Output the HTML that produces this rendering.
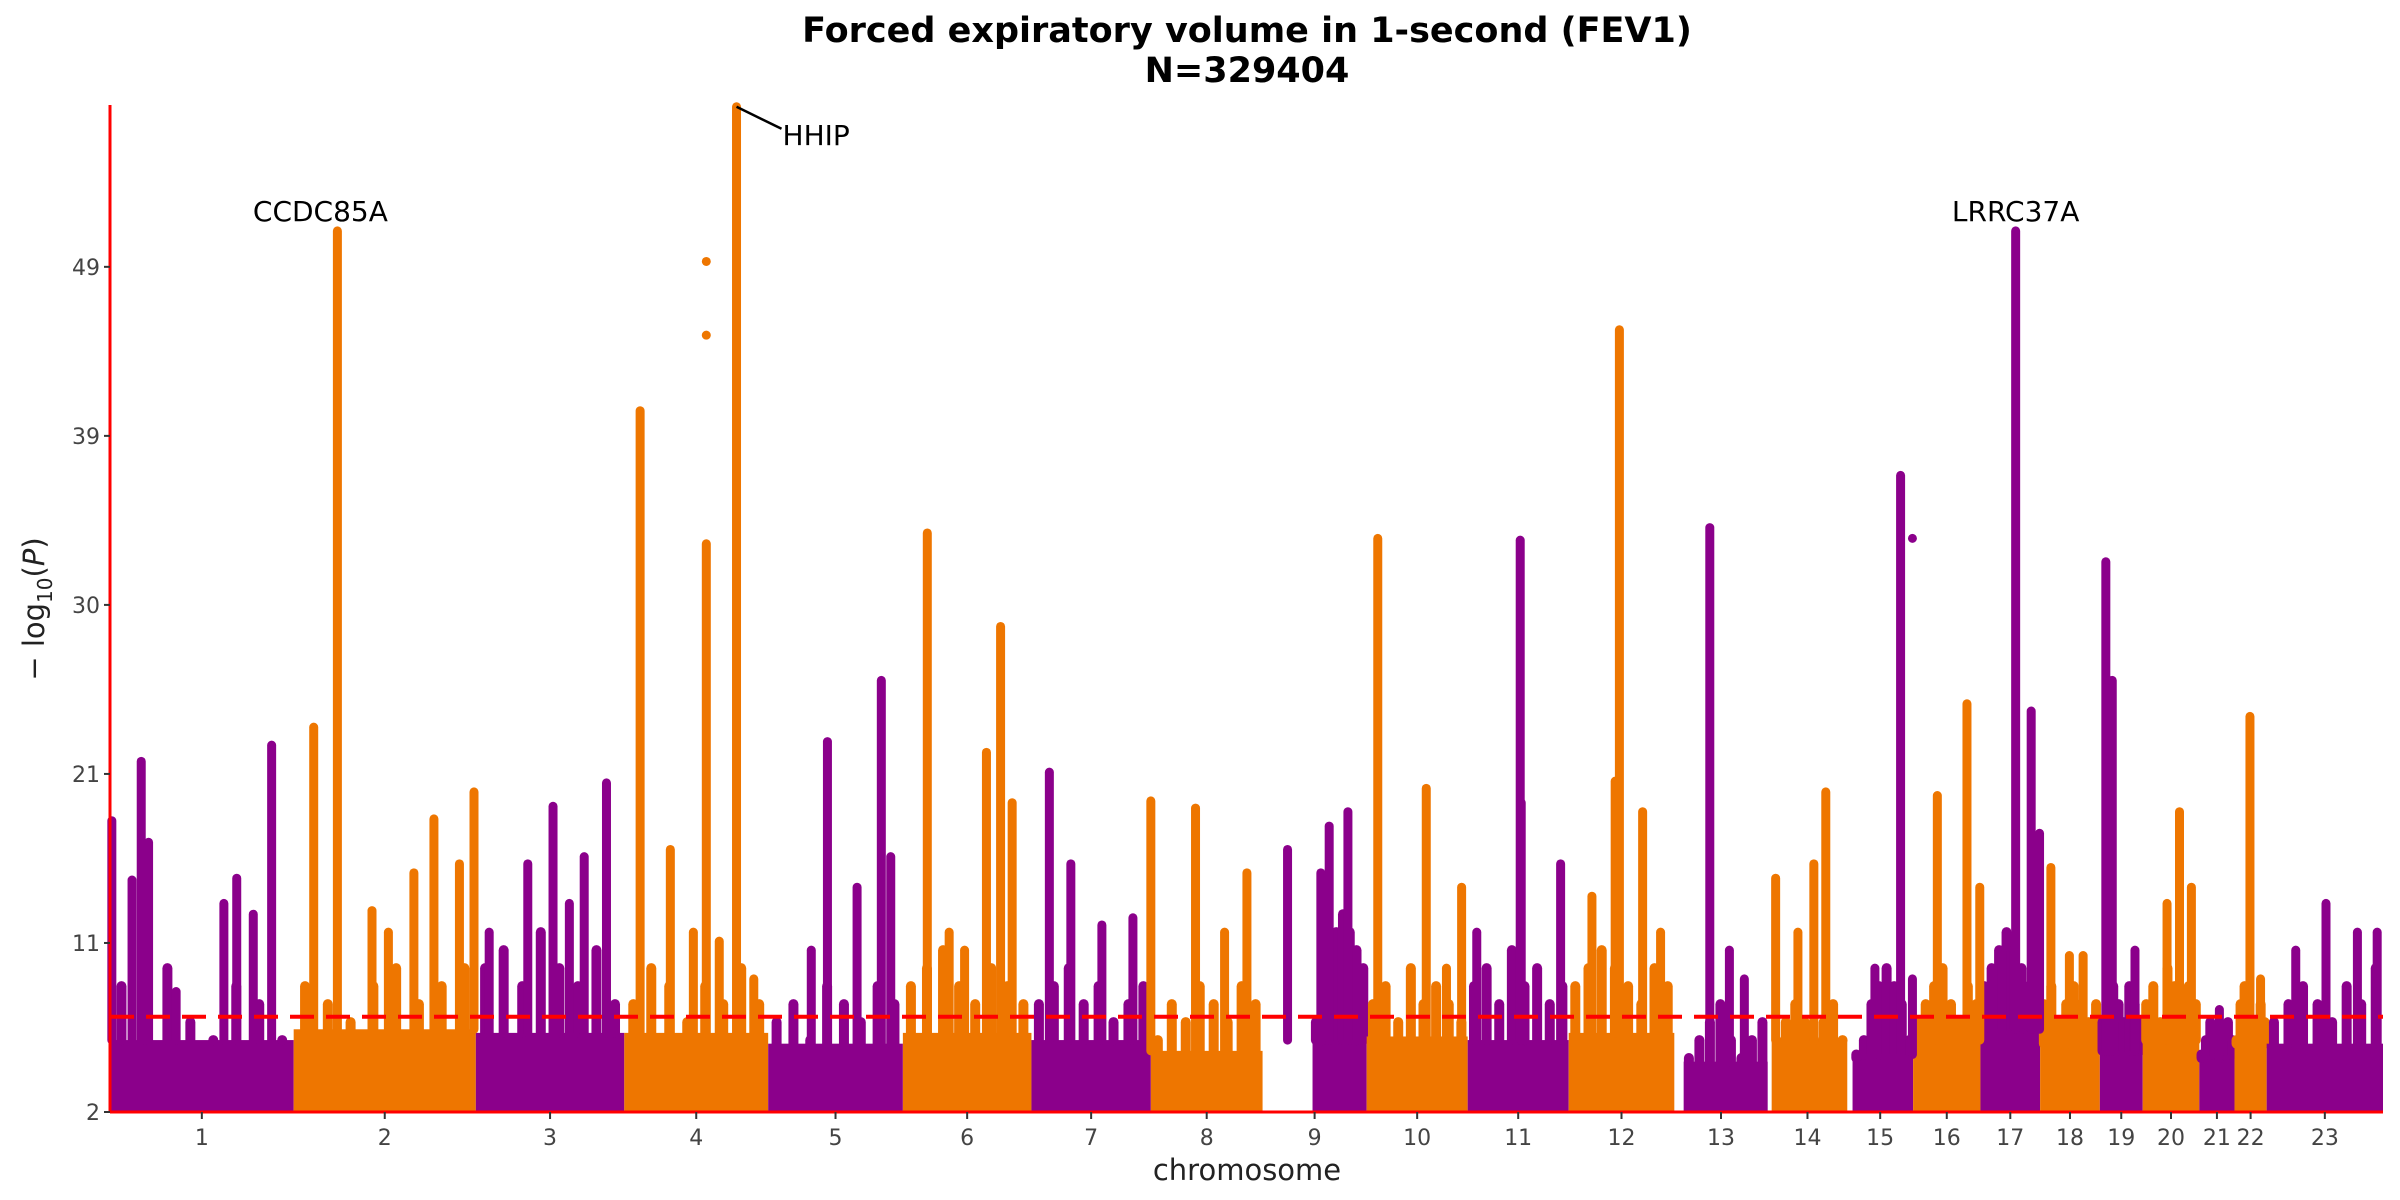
<!DOCTYPE html>
<html><head><meta charset="utf-8">
<style>
html,body{margin:0;padding:0;background:#fff;}
svg{display:block;font-family:"DejaVu Sans","Liberation Sans",sans-serif;}
</style></head>
<body>
<svg id="chart" width="2400" height="1200" viewBox="0 0 2400 1200">
  <text x="1247" y="42" text-anchor="middle" font-size="35" font-weight="bold">Forced expiratory volume in 1-second (FEV1)</text>
  <text x="1247" y="82" text-anchor="middle" font-size="35" font-weight="bold">N=329404</text>
  <g id="marks"></g>
  <g id="axes"></g>
  <text x="1247" y="1180" text-anchor="middle" font-size="29" fill="#222">chromosome</text>
  <text transform="translate(44,609) rotate(-90)" text-anchor="middle" font-size="29" fill="#222">− log<tspan font-size="20" dy="8">10</tspan><tspan dy="-8">(</tspan><tspan font-style="italic">P</tspan>)</text>
</svg>
<script>
// ---- data ----
const chromLabels = ["1","2","3","4","5","6","7","8","9","10","11","12","13","14","15","16","17","18","19","20","21","22","23"];
const chromLengths = [120,119,97,94,88,84,78,73,68,66,66,69,61,52,43,44,39,39,28,37,23,21,76];
const chromDataStart = [0,0,0,0,0,0,0,0,0.48,0,0,0,0.1,0.05,0.08,0,0,0,0,0,0,0,0];
const bulkLevel = [6.0,6.6,6.4,6.4,5.8,6.4,6.0,5.4,6.0,6.2,6.0,6.4,4.8,6.0,5.2,6.0,6.6,5.8,5.4,6.0,5.2,5.8,5.8];
const noiseLevels = [
 [9,8,10,7,6,9,8,6],[9,8,7,9,10,8,9,10],[10,11,9,12,10,9,11,8],[8,10,9,7,9,8,10,8],
 [7,8,6,9,8,7,9,8],[9,10,11,9,8,10,9,8],[8,9,10,8,9,7,8,9],[6,8,7,9,8,7,9,8],
 [7,8,9,12,13,12,11,10],[8,9,7,10,8,9,8,7],[9,10,8,11,9,10,8,9],[9,10,11,10,9,8,10,9],
 [5,6,7,8,6,5,6,7],[6,7,8,7,6,7,8,6],[5,6,8,9,10,9,8,6],[7,8,9,10,8,7,9,8],
 [9,10,11,12,11,10,9,8],[8,9,7,8,9,8,7,8],[7,8,9,8,7,9,8,7],[8,9,7,10,9,8,9,8],
 [5,6,7,6,5,6,7,6],[6,8,9,8,7,6,8,7],[7,8,9,8,7,9,8,10]
];
const peakChrom = [0,0,0,0,0,0,0,0,0, 1,1,1,1,1,1,1,1, 2,2,2,2,2,2, 3,3,3,3,3,3,3, 4,4,4,4,4, 5,5,5,5,5,5, 6,6,6,6, 7,7,7,7, 8,8,8,8, 9,9,9,9, 10,10,10,10, 11,11,11,11,11, 12,12,12, 13,13,13,13, 14,14,14, 15,15,15, 16,16,16,16, 17,17,17, 18,18,18,18, 19,19,19, 20, 21,21, 22,22,22,22];
const peakPos = [0.01,0.12,0.17,0.21,0.36,0.69,0.88,0.78,0.62, 0.11,0.24,0.43,0.66,0.77,0.91,0.52,0.99, 0.09,0.35,0.52,0.73,0.88,0.63, 0.11,0.32,0.57,0.78,0.66,0.90,0.48, 0.32,0.44,0.66,0.84,0.91, 0.19,0.36,0.65,0.76,0.85,0.48, 0.15,0.33,0.59,0.85, 0.0,0.40,0.86,0.66, 0.24,0.64,0.82,0.56, 0.11,0.59,0.94,0.79, 0.52,0.53,0.92,0.09, 0.48,0.22,0.44,0.70,0.87, 0.38,0.59,0.75, 0.10,0.73,0.58,0.38, 0.81,0.99,0.42, 0.36,0.80,0.99, 0.59,0.85,0.99,0.36, 0.18,0.49,0.72, 0.21,0.14,0.29,0.82, 0.65,0.43,0.86, 0.57, 0.48,0.81, 0.51,0.78,0.25,0.95];
const peakValue = [18.2,14.9,21.5,17,8.7,15,22.4,13,13.6, 23.4,51,13.2,15.3,18.3,15.8,12,19.8, 12,15.8,19,16.2,20.3,13.6, 41,16.6,33.6,57.9,11.5,9.4,12, 11,22.6,14.5,26,16.2, 34.2,12,22,29,19.2,11, 20.9,15.8,12.4,12.8, 19.3,18.9,15.3,12, 16.6,17.9,18.7,15.3, 33.9,20,14.5,10, 33.8,19.2,15.8,12, 45.5,14,20.4,18.7,12, 34.5,11,9.4, 15,19.8,15.8,12, 37.4,9.4,10, 19.6,24.7,14.5, 51,24.3,17.5,11, 15.6,10.7,10.7, 12.8,32.6,26,11, 18.7,13.6,14.5, 7.7, 24,9.4, 13.6,12,11,12];
const dotChrom = [3,3,14,18,18];
const dotPos = [0.57,0.57,0.99,0.21,0.21];
const dotValue = [49.3,45.2,33.9,26,21.6];
const yTickValues = [2,11.4,20.8,30.2,39.6,49];
const yTickLabels = ["2","11","21","30","39","49"];
const threshold = 7.3;
const annoLabels = ["CCDC85A","HHIP","LRRC37A"];
const annoChrom = [1,3,16];
const annoPos = [0.24,0.78,0.59];
const annoValue = [51,57.9,51];

// ---- scales ----
const X0 = 110, X1 = 2383, Y0 = 1112, YTOP = 105;
const yMin = 2, yMax = 58;
const total = chromLengths.reduce((a,b)=>a+b,0);
const starts = []; let acc = 0;
chromLengths.forEach(l=>{starts.push(acc); acc+=l;});
function xScale(ci, rel){ return X0 + (starts[ci] + rel*chromLengths[ci]) / total * (X1-X0); }
function yScale(v){ return Y0 - (v - yMin) / (yMax - yMin) * (Y0 - YTOP); }
const colors = ["#8B008B","#EE7600"];
const NS = "http://www.w3.org/2000/svg";
const marks = document.getElementById("marks");
const axes = document.getElementById("axes");
function mk(tag, attrs, parent){ const e=document.createElementNS(NS,tag); for(const k in attrs) e.setAttribute(k,attrs[k]); parent.appendChild(e); return e; }

chromLabels.forEach((lab,ci)=>{
  const col = colors[ci%2];
  const g = mk("g",{fill:col,stroke:col},marks);
  
  
  const xa = xScale(ci, chromDataStart[ci]), xb = xScale(ci,1);
  const r = mk("rect",{x:xa, y:yScale(bulkLevel[ci]), width:Math.max(0,xb-xa), height:Y0-yScale(bulkLevel[ci]), stroke:"none"},g);
  
  
  const n = noiseLevels[ci];
  n.forEach((v,k)=>{
    const rel = chromDataStart[ci] + (1-chromDataStart[ci])*(k+0.5)/n.length;
    const ln = mk("line",{x1:xScale(ci,rel),x2:xScale(ci,rel),y1:yScale(bulkLevel[ci]),y2:yScale(v),"stroke-width":10,"stroke-linecap":"round"},g);
    
    
  });
});
peakChrom.forEach((ci,i)=>{
  const col = colors[ci%2];
  const x = xScale(ci, peakPos[i]);
  const ln = mk("line",{x1:x,x2:x,y1:yScale(bulkLevel[ci]),y2:yScale(peakValue[i]),stroke:col,"stroke-width":9,"stroke-linecap":"round"},marks);
  
  
});
dotChrom.forEach((ci,i)=>{
  const c = mk("circle",{cx:xScale(ci,dotPos[i]),cy:yScale(dotValue[i]),r:4.5,fill:colors[ci%2]},marks);
  
  
});
const th = mk("line",{x1:X0,x2:X1,y1:yScale(threshold),y2:yScale(threshold),stroke:"#FF0000","stroke-width":4,"stroke-dasharray":"24 12"},marks);



const ya = mk("line",{x1:X0,x2:X0,y1:YTOP,y2:Y0+1,stroke:"#FF0000","stroke-width":3},axes);


const xa = mk("line",{x1:X0,x2:X1,y1:Y0,y2:Y0,stroke:"#FF0000","stroke-width":3},axes);


yTickValues.forEach((v,i)=>{
  const y = yScale(v);
  const t = mk("line",{x1:X0-6,x2:X0,y1:y,y2:y,stroke:"#333","stroke-width":2},axes);
  
  
  const tx = mk("text",{x:X0-10,y:y+8,"text-anchor":"end","font-size":22,fill:"#444"},axes);
  tx.textContent = yTickLabels[i];
  
  
});
chromLabels.forEach((lab,ci)=>{
  const x = xScale(ci,0.5);
  const t = mk("line",{x1:x,x2:x,y1:Y0,y2:Y0+7,stroke:"#333","stroke-width":2},axes);
  
  
  const tx = mk("text",{x:x,y:Y0+33,"text-anchor":"middle","font-size":22,fill:"#444"},axes);
  tx.textContent = lab;
  
  
});
annoLabels.forEach((lab,i)=>{
  const x = xScale(annoChrom[i], annoPos[i]), y = yScale(annoValue[i]);
  let t;
  if (lab === "HHIP") {
    const l = mk("line",{x1:x,y1:y,x2:x+45,y2:y+22,stroke:"#000","stroke-width":2.5},axes);
    
    
    t = mk("text",{x:x+46,y:y+38,"font-size":28},axes);
  } else {
    t = mk("text",{x:x - (lab==="CCDC85A"?17:0),y:y-10,"text-anchor":"middle","font-size":28},axes);
  }
  t.textContent = lab;
  
  
});
</script>
</body></html>
